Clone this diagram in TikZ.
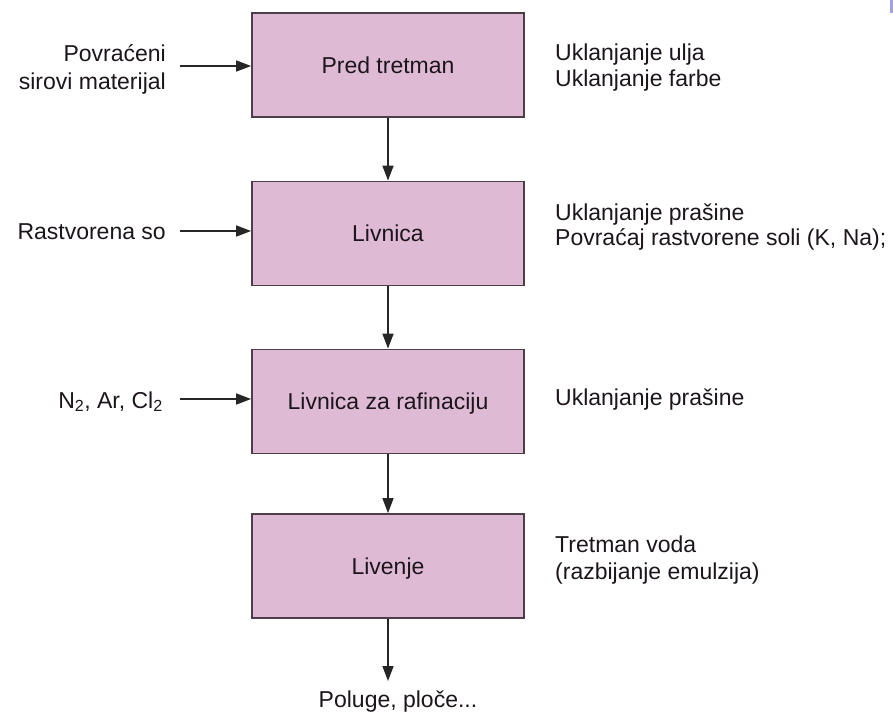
\documentclass[tikz,border=0pt]{standalone}
\usepackage{fontspec}
\setmainfont{Liberation Sans}
\usetikzlibrary{arrows.meta}
\definecolor{boxfill}{RGB}{223,186,212}
\definecolor{boxline}{RGB}{78,62,74}
\definecolor{txt}{RGB}{28,22,28}
\definecolor{edgemark}{RGB}{160,160,228}
\begin{document}
\begin{tikzpicture}[x=1pt,y=-1pt,
  proc/.style={draw=boxline,fill=boxfill,line width=1.8pt,minimum width=272pt,minimum height=104pt,
    inner sep=0pt,text=txt,font=\fontsize{23}{26}\selectfont,text height=16.5pt,text depth=0pt},
  lbl/.style={inner sep=0pt,text=txt,font=\fontsize{23}{26}\selectfont},
  arr/.style={draw=black!85,line width=1.6pt,-{Triangle[length=15pt,width=11pt]}}]
\useasboundingbox (0,0) rectangle (893,712);
\fill[white] (0,0) rectangle (893,712);
\fill[edgemark] (889.5,0) rectangle (893,13);

% process boxes
\node[proc] (b1) at (388,65) {Pred tretman};
\node[proc] (b2) at (388,233.5) {Livnica};
\node[proc] (b3) at (388,401.5) {Livnica za rafinaciju};
\node[proc] (b4) at (388,566) {Livenje};

% vertical connectors
\draw[arr] (b1.south) -- (b2.north);
\draw[arr] (b2.south) -- (b3.north);
\draw[arr] (b3.south) -- (b4.north);
\coordinate (out) at (388,681);
\draw[arr] (b4.south) -- (out);
\node[lbl,anchor=base] (prod) at (398,707) {Poluge, ploče...};

% inputs on the left
\node[lbl,anchor=base east] (in1a) at (166,61) {Povraćeni};
\node[lbl,anchor=base east] (in1b) at (166,89) {sirovi materijal};
\node[lbl,anchor=base east] (in2) at (166,239) {Rastvorena so};
\node[lbl,anchor=base east] (in3) at (163,408) {N\textsubscript{2}, Ar, Cl\textsubscript{2}};

\coordinate (s1) at (180,66);
\coordinate (s2) at (180,231);
\coordinate (s3) at (180,399);
\draw[arr] (s1) -- (s1 -| b1.west);
\draw[arr] (s2) -- (s2 -| b2.west);
\draw[arr] (s3) -- (s3 -| b3.west);

% outputs on the right
\node[lbl,anchor=base west] (o1a) at (555,60) {Uklanjanje ulja};
\node[lbl,anchor=base west] (o1b) at (555,86) {Uklanjanje farbe};
\node[lbl,anchor=base west] (o2a) at (555,220) {Uklanjanje prašine};
\node[lbl,anchor=base west] (o2b) at (555,245) {Povraćaj rastvorene soli (K, Na);};
\node[lbl,anchor=base west] (o3) at (555,405) {Uklanjanje prašine};
\node[lbl,anchor=base west] (o4a) at (555,552) {Tretman voda};
\node[lbl,anchor=base west] (o4b) at (555,579) {(razbijanje emulzija)};
\end{tikzpicture}
\end{document}
